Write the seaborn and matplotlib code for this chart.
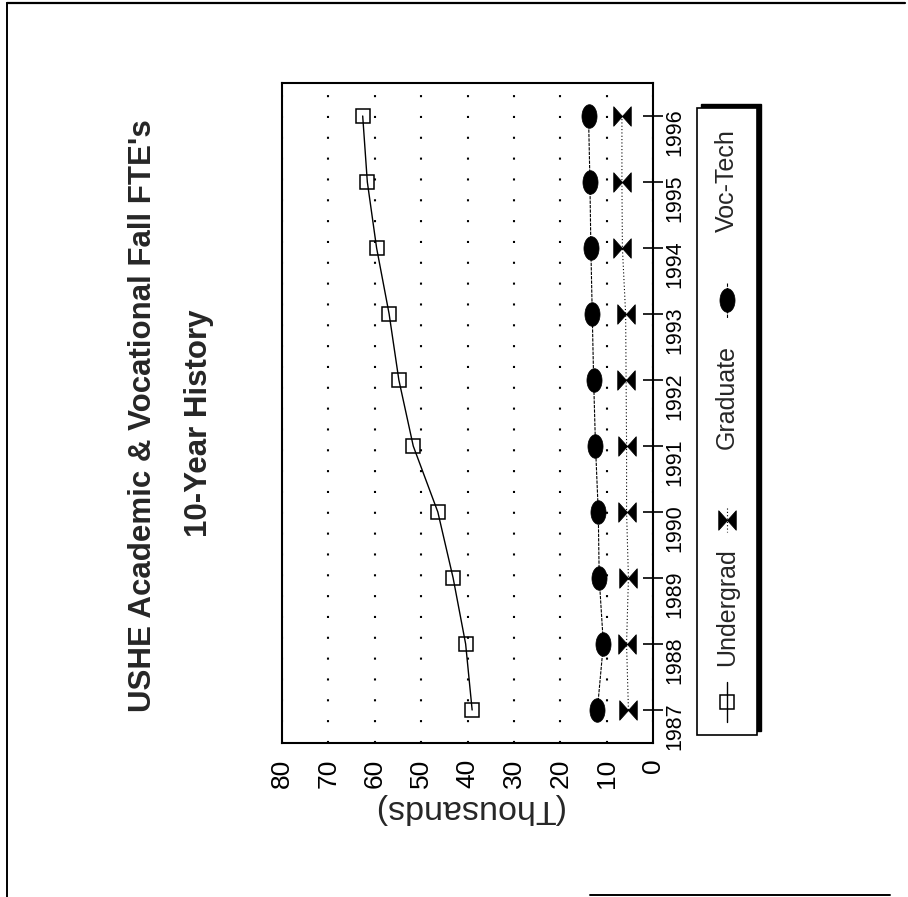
import numpy as np
import pandas as pd
import matplotlib
matplotlib.use("Agg")
import matplotlib.pyplot as plt
import seaborn as sns
from matplotlib.path import Path
from matplotlib.lines import Line2D
from matplotlib.patches import Rectangle
from matplotlib.ticker import MultipleLocator

years = [1987, 1988, 1989, 1990, 1991, 1992, 1993, 1994, 1995, 1996]
undergrad = [39.0, 40.4, 43.1, 46.4, 51.7, 54.8, 56.9, 59.6, 61.6, 62.6]
graduate = [5.3, 5.7, 5.3, 5.7, 5.7, 5.8, 5.9, 6.6, 6.7, 6.7]
voc_tech = [12.0, 10.7, 11.6, 11.8, 12.4, 12.8, 13.1, 13.4, 13.6, 13.9]
value_ticks = [0, 10, 20, 30, 40, 50, 60, 70, 80]
series_names = ["Undergrad", "Graduate", "Voc-Tech"]

df = pd.DataFrame({"year": years, "Undergrad": undergrad,
                   "Graduate": graduate, "Voc-Tech": voc_tech})

sns.set_style("white")
plt.rcParams["font.family"] = ["Liberation Sans", "DejaVu Sans"]

W, H = 908, 897
fig = plt.figure(figsize=(W / 100, H / 100), dpi=100)

def fx(x):
    return x / W

def fy(y):
    return 1 - y / H

# the whole page is rotated 90 deg counter-clockwise: values run right->left, years bottom->top
ax = fig.add_axes([fx(282), fy(743), fx(653) - fx(282), fy(83) - fy(743)])

# marker shapes
t = np.linspace(0, 2 * np.pi, 48)
ellipse = Path(np.column_stack([0.64 * np.cos(t), np.sin(t)]), closed=True)
bowtie = Path([(-0.9, -1), (0.9, 1), (0.9, -1), (-0.9, 1), (-0.9, -1)],
              [Path.MOVETO, Path.LINETO, Path.LINETO, Path.LINETO, Path.CLOSEPOLY])

styles = {
    "Undergrad": dict(linestyle="-", linewidth=1.0, marker="s", markersize=10.5,
                      markerfacecolor="none", markeredgecolor="black", markeredgewidth=1.1),
    "Graduate": dict(linestyle=(0, (1, 2)), linewidth=0.8, marker=bowtie, markersize=14,
                     markerfacecolor="black", markeredgecolor="black", markeredgewidth=0.6),
    "Voc-Tech": dict(linestyle=(0, (3, 1)), linewidth=0.8, marker=ellipse, markersize=17,
                     markerfacecolor="black", markeredgecolor="black", markeredgewidth=0.5),
}

for name in series_names:
    sns.lineplot(data=df, x=name, y="year", orient="y", ax=ax, color="black",
                 errorbar=None, **styles[name])

ax.set_xlim(80, 0)
ax.set_ylim(1986.5, 1996.5)
ax.set_xticks(value_ticks)
ax.xaxis.set_minor_locator(MultipleLocator(5))
ax.set_yticks(years)
ax.yaxis.tick_right()

ax.grid(axis="x", which="major", color="black", linestyle=(0, (1, 9)), linewidth=1.5)
ax.grid(axis="y", visible=False)
for s in ax.spines.values():
    s.set_linewidth(1.5)
    s.set_color("black")

ax.tick_params(axis="x", which="major", direction="inout", length=12, width=1.2,
               labelsize=19, labelrotation=90, pad=5, colors="black")
ax.tick_params(axis="x", which="minor", direction="inout", length=5, width=1.0, colors="black")
ax.tick_params(axis="y", which="major", direction="inout", length=14, width=1.2,
               labelsize=15.5, labelrotation=90, pad=1.5, colors="black", right=True, left=False)

ax.set_ylabel("")
ax.set_xlabel("(Thousands)", rotation=180, fontsize=24.5, labelpad=4)

# title, rotated with the page
fig.text(fx(143), fy(416), "USHE Academic & Vocational Fall FTE's", rotation=90,
         ha="center", va="center", fontsize=22.5, fontweight="bold")
fig.text(fx(199), fy(423), "10-Year History", rotation=90,
         ha="center", va="center", fontsize=22.5, fontweight="bold")

# legend box with drop shadow (drawn by hand since it is rotated)
fig.add_artist(Rectangle((fx(701), fy(731)), fx(60), fy(104) - fy(731),
                         transform=fig.transFigure, facecolor="black", edgecolor="black"))
fig.add_artist(Rectangle((fx(697), fy(735)), fx(60), fy(108) - fy(735),
                         transform=fig.transFigure, facecolor="white", edgecolor="black", linewidth=1.2))

leg_x = 727
leg_items = [("Undergrad", 682, 722, 702, 607),
             ("Graduate", 508, 532, 520, 397),
             ("Voc-Tech", 283, 318, 300, 181)]
for name, y0, y1, ym, ty in leg_items:
    st = dict(styles[name])
    fig.add_artist(Line2D([fx(leg_x), fx(leg_x)], [fy(y0), fy(y1)], transform=fig.transFigure,
                          color="black", linestyle=st.pop("linestyle"), linewidth=st.pop("linewidth")))
    fig.add_artist(Line2D([fx(leg_x)], [fy(ym)], transform=fig.transFigure, linestyle="none", **st))
    fig.text(fx(leg_x), fy(ty), name, rotation=90, ha="center", va="center", fontsize=18)

# page frame
fig.add_artist(Line2D([fx(7), fx(905)], [fy(3), fy(3)], transform=fig.transFigure, color="black", linewidth=1.6))
fig.add_artist(Line2D([fx(7), fx(7)], [fy(3), fy(897)], transform=fig.transFigure, color="black", linewidth=1.4))
fig.add_artist(Line2D([fx(590), fx(890)], [fy(895), fy(895)], transform=fig.transFigure, color="black", linewidth=1.4))

plt.savefig("out.png", dpi=100)
